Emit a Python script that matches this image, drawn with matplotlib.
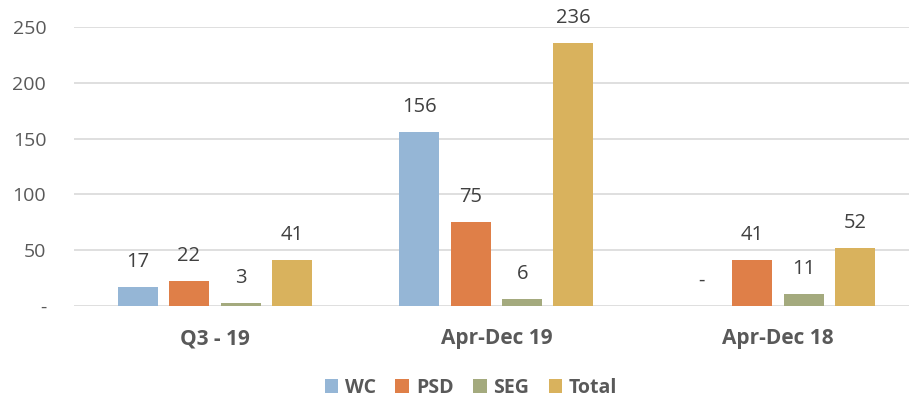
import numpy as np
import matplotlib

matplotlib.use("Agg")
import matplotlib.pyplot as plt
from matplotlib.ticker import FuncFormatter

plt.rcParams["font.family"] = ["Open Sans", "DejaVu Sans"]

categories = ["Q3 - 19", "Apr-Dec 19", "Apr-Dec 18"]
series = ["WC", "PSD", "SEG", "Total"]
wc = [17, 156, 0]
psd = [22, 75, 41]
seg = [3, 6, 11]
total = [41, 236, 52]
colors = ["#95B6D6", "#DF7F48", "#A4AA7E", "#D9B25D"]

values = [wc, psd, seg, total]
offsets = [-0.2735, -0.092, 0.092, 0.2735]
width = 0.142

fig = plt.figure(figsize=(9.09, 4.03), dpi=100)
ax = fig.add_axes([74 / 909, 97 / 403, 835 / 909, 279 / 403])

x = np.arange(len(categories))
for vals, off, col, name in zip(values, offsets, colors, series):
    bars = ax.bar(x + off, vals, width, color=col, label=name, zorder=3)
    for b, v in zip(bars, vals):
        txt = "-" if v == 0 else f"{v}"
        ax.annotate(txt, (b.get_x() + b.get_width() / 2, v),
                    xytext=(0, 18), textcoords="offset points",
                    ha="center", va="center", fontsize=14.5,
                    color="#404040", annotation_clip=False)

ax.set_xlim(-0.5, 2.465)
ax.set_ylim(0, 250)
ax.set_yticks([0, 50, 100, 150, 200, 250])
ax.yaxis.set_major_formatter(FuncFormatter(lambda v, p: "-" if v == 0 else f"{int(v)}"))
ax.set_xticks(x)
ax.set_xticklabels(categories, fontweight="bold")
ax.tick_params(axis="x", length=0, pad=16, labelsize=15, labelcolor="#595959")
ax.tick_params(axis="y", length=0, pad=20, labelsize=14, labelcolor="#595959")
ax.grid(axis="y", color="#D9D9D9", linewidth=1.2, zorder=0)
for s in ax.spines.values():
    s.set_visible(False)

fig.legend(loc="center", bbox_to_anchor=(471 / 909, 1 - 388 / 403), ncol=4,
           frameon=False, handlelength=0.7, handleheight=0.7,
           handletextpad=0.35, columnspacing=1.0,
           prop={"weight": "bold", "size": 14}, labelcolor="#595959")

fig.savefig("out.png", dpi=100)
